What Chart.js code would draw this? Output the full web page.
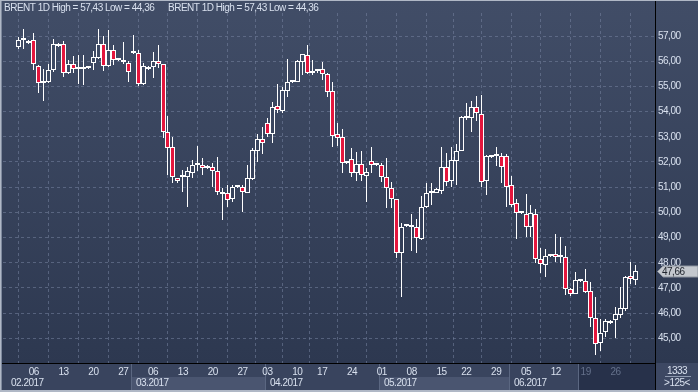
<!DOCTYPE html>
<html><head><meta charset="utf-8">
<script src="https://cdn.jsdelivr.net/npm/chart.js@4/dist/chart.umd.min.js"></script>
<style>html,body{margin:0;padding:0;background:#2f3a53;overflow:hidden}</style>
</head><body>
<canvas id="c" width="698" height="392"></canvas>
<script>
// ---- data (BRENT, daily, Feb–Jun 2017) ----
const open = [56.58,56.83,56.80,56.84,55.82,55.15,55.16,55.64,56.62,56.67,55.55,55.88,55.69,55.68,55.72,55.92,56.12,56.68,55.82,56.44,56.04,55.98,55.92,56.31,56.31,55.10,55.78,55.78,56.00,55.88,53.20,52.58,51.35,51.42,51.42,51.58,51.95,51.87,51.76,51.80,51.63,50.82,50.76,50.52,51.00,50.99,50.78,51.34,52.45,52.91,53.54,53.10,54.21,54.02,54.83,55.17,55.19,55.98,56.23,55.52,55.60,55.68,55.49,54.82,53.10,52.98,51.95,52.11,51.58,51.91,51.46,52.03,51.89,51.87,51.42,50.96,50.52,48.38,49.46,49.49,49.41,48.93,50.20,50.78,50.78,50.86,51.79,51.26,52.05,52.45,53.74,53.74,54.17,53.90,51.26,52.21,52.24,52.24,52.24,51.09,50.36,49.96,49.94,49.43,49.94,48.15,47.90,48.27,48.33,48.22,48.22,46.95,46.75,47.27,47.27,46.87,45.80,44.81,45.27,45.69,45.73,45.93,46.15,47.46,47.31];
const high = [56.95,57.28,56.84,57.10,55.84,55.69,55.89,56.88,56.72,56.81,56.06,56.22,56.25,56.25,55.76,56.40,57.28,57.00,57.24,56.64,56.08,56.77,56.00,57.04,56.44,55.93,55.80,56.38,56.64,55.90,53.84,52.98,51.37,51.68,51.81,52.08,52.63,52.16,51.88,51.95,52.21,50.96,51.09,51.09,51.04,51.09,51.88,52.54,53.11,53.38,53.73,54.39,55.10,54.99,56.08,55.27,56.05,56.28,56.64,56.05,55.70,55.97,55.54,55.19,53.54,53.30,52.05,52.54,52.41,52.44,51.75,52.58,51.92,51.97,52.15,51.22,50.54,49.59,49.50,49.94,49.74,50.65,51.15,51.15,50.96,52.61,52.37,52.58,52.71,53.83,54.35,54.43,54.62,54.66,52.28,52.26,52.61,52.34,52.32,51.44,50.52,49.98,50.73,50.29,50.12,48.59,48.56,48.30,49.14,49.04,48.67,47.00,47.63,47.30,47.74,47.23,46.63,45.76,45.76,45.72,46.26,47.05,47.48,48.02,47.91];
const low = [56.50,56.50,56.68,55.65,54.73,54.43,55.12,55.58,56.58,55.38,55.50,55.52,55.10,55.06,55.69,55.65,56.10,55.62,55.78,55.85,56.00,55.88,55.19,56.27,55.03,55.06,55.66,55.32,55.72,52.94,51.48,51.15,51.15,50.82,50.23,51.35,51.65,51.50,51.73,51.00,50.70,49.70,50.23,50.40,50.96,50.03,50.76,51.30,52.01,52.32,53.00,52.74,53.96,53.96,54.59,55.12,55.17,55.45,55.48,55.45,55.52,55.25,54.59,52.58,52.63,51.55,51.93,51.42,51.26,51.26,50.42,51.58,51.86,51.22,50.16,50.16,48.18,46.63,49.42,48.48,48.40,48.90,50.18,50.29,50.76,50.73,51.05,51.02,51.09,52.43,53.67,53.20,53.64,51.00,50.69,52.16,51.84,51.18,50.20,50.23,48.96,49.92,49.03,49.01,47.98,47.58,47.42,48.24,48.03,48.00,46.72,46.70,46.75,47.24,46.79,45.44,44.36,44.51,45.04,45.57,45.00,45.80,46.10,47.15,47.12];
const close = [56.84,56.84,56.71,55.88,55.12,55.16,55.64,56.68,56.65,55.55,55.88,55.68,55.70,55.76,55.72,56.15,56.68,55.80,56.44,56.04,56.04,55.98,55.56,56.31,55.10,55.80,55.68,56.00,55.88,53.18,52.54,51.39,51.25,51.42,51.63,51.90,51.87,51.76,51.84,51.63,50.82,50.72,50.48,51.00,51.00,50.82,51.35,52.46,52.91,52.74,53.10,54.17,54.06,54.86,55.16,55.25,56.00,56.27,55.54,55.60,55.60,55.48,54.79,53.04,52.96,51.95,52.03,51.55,51.92,51.47,51.59,51.87,51.89,51.39,50.96,50.52,48.38,49.41,49.46,49.41,48.97,50.20,50.76,50.78,50.93,51.79,51.22,52.08,52.44,53.79,53.83,54.17,53.93,51.22,52.24,52.21,52.24,51.81,51.02,50.29,49.96,49.96,49.43,49.96,48.14,47.95,48.26,48.27,48.22,48.22,46.95,46.75,47.31,47.27,46.85,45.80,44.77,45.23,45.69,45.60,45.97,46.20,47.45,47.35,47.66];
const priceTicks = [45,46,47,48,49,50,51,52,53,54,55,56,57];
const weekTickIdx = [3,9,15,21,27,33,39,45,50,56,61,67,73,79,85,90,96,102,108,114,120];
const weekLabels = ['06','13','20','27','06','13','20','27','03','10','17','24','01','08','15','22','29','05','12','19','26'];
const monthStartIdx = [-2,23,50,73,99];
const monthLabels = ['02.2017','03.2017','04.2017','05.2017','06.2017'];
const shadeFromIdx = 113;          // start of the shaded (latest) range on the time axis
const titleText = 'BRENT 1D High = 57,43 Low = 44,36';
const barsTotal = '1333', barsVisible = '>125<';

// ---- styles ----
const FONT = "'Liberation Sans',Arial,sans-serif";
const FS = 10, LS = '-0.5px';
const RED = '#e4163d', TXT = '#d8e0ee', DIM = '#65718b';
const GRID = 'rgba(118,132,160,0.55)';
const TOPC = [65,77,103], BOTC = [45,56,80];
const PLOT_BOTTOM = 363;
function bgAt(y){ const t=Math.max(0,Math.min(1,y/PLOT_BOTTOM)); return 'rgb('+TOPC.map((v,k)=>Math.round(v+(BOTC[k]-v)*t)).join(',')+')'; }
const fmt = v => v.toFixed(2).replace('.', ',');

const N = open.length;
const ids = open.map((_, i) => i);
const bodyData = ids.map(i => ({x:i, y:[open[i], close[i]]}));
const upperData = ids.map(i => ({x:i, y:[Math.max(open[i],close[i]), high[i]]}));
const lowerData = ids.map(i => ({x:i, y:[low[i], Math.min(open[i],close[i])]}));

const bgPlugin = {id:'bg', beforeDraw(chart){
  const c = chart.ctx, xs = chart.scales.x;
  c.letterSpacing = LS;
  c.save();
  const g = c.createLinearGradient(0,0,0,PLOT_BOTTOM);
  g.addColorStop(0, bgAt(0)); g.addColorStop(1, bgAt(PLOT_BOTTOM));
  c.fillStyle = g; c.fillRect(0,0,698,PLOT_BOTTOM);
  c.fillStyle = '#39445e'; c.fillRect(0,PLOT_BOTTOM,698,392-PLOT_BOTTOM);
  const L = chart.chartArea.left, R = chart.chartArea.right;
  const bx = monthStartIdx.map(m => Math.max(L, xs.getPixelForValue(m-0.5)));
  const shadeX = Math.round(xs.getPixelForValue(shadeFromIdx-0.5));
  for (let k=0;k<monthStartIdx.length;k++){
    const x0 = Math.round(bx[k]), x1 = Math.round(k+1<bx.length ? bx[k+1] : R);
    if (k%2===1){ c.fillStyle = '#4a5570'; c.fillRect(x0,377,x1-x0,13); }
  }
  c.fillStyle = '#27314a'; c.fillRect(shadeX,364,R-shadeX,26);
  c.fillStyle = '#5b6781';
  bx.slice(1).forEach(x => c.fillRect(Math.round(x),364,1,26));
  c.fillRect(shadeX,364,1,26);
  c.fillStyle = '#3d4863'; c.fillRect(R,PLOT_BOTTOM,698-R,27);
  c.restore();
}};

const snapPlugin = {id:'snap', beforeDatasetsDraw(chart){
  chart.data.datasets.forEach((ds, di) => {
    chart.getDatasetMeta(di).data.forEach(el => {
      el.x = Math.floor(el.x) + 0.5;
      let t = Math.round(Math.min(el.y, el.base)), b = Math.round(Math.max(el.y, el.base));
      if (di === 0 && b - t < 2) b = t + 2;
      el.y = t; el.base = b;
    });
  });
}};

const overlay = {id:'overlay', afterDraw(chart){
  const c = chart.ctx, xs = chart.scales.x, ys = chart.scales.y;
  const L = chart.chartArea.left, R = chart.chartArea.right;
  c.save();
  c.letterSpacing = LS;
  c.font = FS + 'px ' + FONT; c.textBaseline = 'middle'; c.fillStyle = TXT;
  c.fillText(titleText, 4, 8.5);
  c.fillText(titleText, 168, 8.5);
  monthStartIdx.forEach((m,k) => {
    const x = Math.max(xs.getPixelForValue(m-0.5) + 5, 11);
    c.fillStyle = TXT; c.fillText(monthLabels[k], Math.round(x), 383.5);
  });
  c.fillStyle = '#000';
  c.fillRect(R,0,1,392);
  c.fillRect(0,PLOT_BOTTOM,R,1);
  const last = close[N-1], py = Math.round(ys.getPixelForValue(last)) + 0.5;
  c.beginPath();
  c.moveTo(657.5, py); c.lineTo(663, py-5.5); c.lineTo(698, py-5.5); c.lineTo(698, py+5.5); c.lineTo(663, py+5.5); c.closePath();
  c.fillStyle = '#c4c8ce'; c.fill();
  c.strokeStyle = '#8d949f'; c.lineWidth = 1; c.stroke();
  c.fillStyle = '#20252e'; c.fillText(fmt(last), 662, py+0.5);
  c.textAlign = 'center'; c.fillStyle = TXT;
  c.fillText(barsTotal, 677, 371.5);
  c.fillText(barsVisible, 677, 383.5);
  c.fillStyle = '#8f9ab0'; c.fillRect(665,376,26,1);
  c.fillStyle = '#b0b8c6';
  c.fillRect(0,0,698,1); c.fillRect(0,0,1,392); c.fillRect(0,390,698,2);
  c.fillStyle = '#7e899d'; c.fillRect(1,1,1,389);
  c.restore();
}};

Chart.defaults.font.family = FONT;
Chart.defaults.font.size = FS;
new Chart(document.getElementById('c'), {
  type: 'bar',
  data: { datasets: [
    {label:'body', data: bodyData, barThickness:5, minBarLength:2, borderWidth:1, borderColor:'#ffffff',
     borderSkipped:false, inflateAmount:0, grouped:false, clip:0,
     backgroundColor: ctx => close[ctx.dataIndex] >= open[ctx.dataIndex]
        ? bgAt(ctx.chart.scales.y.getPixelForValue((open[ctx.dataIndex]+close[ctx.dataIndex])/2)) : RED},
    {label:'upper', data: upperData, barThickness:1, borderWidth:0, backgroundColor:'#ffffff', inflateAmount:0, grouped:false, clip:0},
    {label:'lower', data: lowerData, barThickness:1, borderWidth:0, backgroundColor:'#ffffff', inflateAmount:0, grouped:false, clip:0}
  ]},
  options: {
    responsive:false, animation:false, events:[],
    layout:{padding:{top:13, left:3, right:0, bottom:0}},
    plugins:{legend:{display:false}, tooltip:{enabled:false}},
    scales:{
      x:{type:'linear', position:'bottom', min:-0.057, max:124.82,
         afterBuildTicks: s => { s.ticks = weekTickIdx.map(v => ({value:v})); },
         afterFit: s => { s.height = 29; },
         ticks:{autoSkip:false, maxRotation:0, padding:3, font:{size:FS, family:FONT},
                color: c => c.index >= 19 ? DIM : TXT, callback:(v,i) => weekLabels[i]},
         grid:{color:GRID, drawTicks:false, lineWidth:1},
         border:{display:true, color:'#000', width:1, dash:[3,3]}},
      y:{type:'linear', position:'right', min:44.0238, max:57.9127,
         afterBuildTicks: s => { s.ticks = priceTicks.map(v => ({value:v})); },
         afterFit: s => { s.width = 43; },
         ticks:{padding:3, font:{size:FS, family:FONT}, color:TXT, callback: v => fmt(v)},
         grid:{color:GRID, drawTicks:false, lineWidth:1},
         border:{display:true, color:'#000', width:1, dash:[3,3]}}
    }
  },
  plugins:[bgPlugin, snapPlugin, overlay]
});
</script>
</body></html>
